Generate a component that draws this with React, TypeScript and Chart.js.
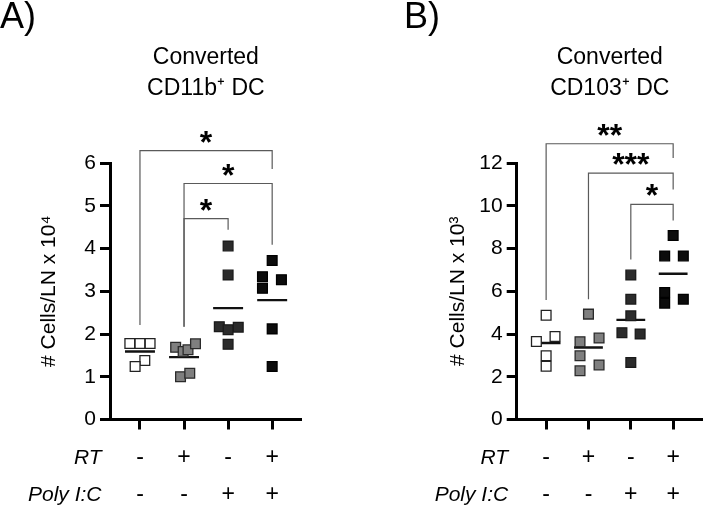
import React, { useEffect, useRef } from 'react';
import { Chart, registerables } from 'chart.js';

Chart.register(...registerables);

// ---------- data ----------
const rtRow = ['-', '+', '-', '+'];
const polyRow = ['-', '-', '+', '+'];
const rowLabels = ['RT', 'Poly I:C'];

// Panel A: Converted CD11b+ DC (# cells/LN x 10^4), one list per group
const cd11bValues = [
  [1.78, 1.78, 1.78, 1.38, 1.24],
  [1.69, 1.59, 1.63, 1.77, 1.0, 1.08],
  [4.06, 3.38, 2.17, 2.1, 2.16, 1.76],
  [3.72, 3.34, 3.07, 3.27, 2.12, 1.24],
];
// horizontal scatter offsets (in group units)
const cd11bJitter = [
  [-0.23, 0, 0.23, 0.11, -0.11],
  [-0.19, -0.02, 0.09, 0.26, -0.08, 0.13],
  [0, 0, -0.2, 0, 0.23, 0],
  [0, -0.22, -0.22, 0.21, 0, 0],
];
// significance brackets: [fromGroup, toGroup, top, leftLegEnd, rightLegEnd, label]
const cd11bSig: [number, number, number, number, number, string][] = [
  [0, 3, 6.29, 2.21, 5.86, '*'],
  [1, 3, 5.52, 2.17, 4.09, '*'],
  [1, 2, 4.7, 2.17, 4.44, '*'],
];

// Panel B: Converted CD103+ DC (# cells/LN x 10^3)
const cd103Values = [
  [4.88, 3.65, 3.88, 2.98, 2.49],
  [4.93, 3.81, 3.64, 2.98, 2.28, 2.55],
  [6.76, 5.63, 4.85, 4.06, 4.0, 2.67],
  [8.61, 7.65, 7.65, 5.94, 5.44, 5.63],
];
const cd103Jitter = [
  [0, -0.23, 0.21, 0, 0],
  [0, 0.25, -0.2, -0.2, -0.2, 0.25],
  [0, 0, 0, -0.21, 0.22, 0],
  [0, -0.2, 0.24, -0.2, -0.2, 0.24],
];
const cd103Sig: [number, number, number, number, number, string][] = [
  [0, 3, 12.9, 5.59, 12.23, '**'],
  [1, 3, 11.53, 5.63, 10.76, '***'],
  [2, 3, 10.06, 7.49, 9.31, '*'],
];

// ---------- styles ----------
const FONT = '"Liberation Sans", Arial, Helvetica, sans-serif';
const groupFill = ['#ffffff', '#7f7f7f', '#2b2b2b', '#0c0c0c'];
const groupBorder = ['#222222', '#2a2a2a', '#1a1a1a', '#000000'];

type PanelDef = {
  label: string;
  labelX: number;
  title: string[];
  yTitle: string;
  yMax: number;
  yStep: number;
  values: number[][];
  jitter: number[][];
  sig: [number, number, number, number, number, string][];
  width: number;
  left: number;
  rightPad: number;
  xMin: number;
  xMax: number;
  yTitleCenter: number;
};

const TOP = 163;
const BOTTOM = 419.5;
const H = 505;

function makeChart(canvas: HTMLCanvasElement, p: PanelDef) {
  const datasets: any[] = [];
  p.values.forEach((vals, g) => {
    datasets.push({
      data: vals.map((v, i) => ({ x: g + p.jitter[g][i], y: v })),
      pointStyle: 'rect',
      pointRadius: 6.9,
      pointHoverRadius: 6.9,
      backgroundColor: groupFill[g],
      borderColor: groupBorder[g],
      borderWidth: 1.3,
      order: 0,
    });
  });
  p.values.forEach((vals, g) => {
    const mean = vals.reduce((a, b) => a + b, 0) / vals.length;
    datasets.push({
      data: [
        { x: g - 0.34, y: mean },
        { x: g + 0.34, y: mean },
      ],
      showLine: true,
      borderColor: '#111111',
      borderWidth: 2.4,
      pointRadius: 0,
      order: 1,
    });
  });
  p.sig.forEach(([from, to, top, le, re]) => {
    datasets.push({
      data: [
        { x: from, y: le },
        { x: from, y: top },
        { x: to, y: top },
        { x: to, y: re },
      ],
      showLine: true,
      borderColor: '#5a5a5a',
      borderWidth: 1.2,
      pointRadius: 0,
      clip: false,
      order: 2,
    });
  });

  const annot = {
    id: 'annot',
    afterDraw(chart: any) {
      const { ctx, chartArea, scales } = chart;
      const xs = scales.x;
      const ys = scales.y;
      ctx.save();
      ctx.fillStyle = '#000';
      // panel label
      ctx.font = `36px ${FONT}`;
      ctx.textAlign = 'left';
      ctx.textBaseline = 'alphabetic';
      ctx.fillText(p.label, p.labelX, 28);
      // title
      ctx.font = `23px ${FONT}`;
      ctx.textAlign = 'center';
      const cx = (chartArea.left + chartArea.right) / 2;
      p.title.forEach((t, i) => ctx.fillText(t, cx, 64 + i * 31));
      // significance stars
      ctx.font = `bold 32px ${FONT}`;
      p.sig.forEach(([from, to, top, , , lab]) => {
        const sx = (xs.getPixelForValue(from) + xs.getPixelForValue(to)) / 2;
        ctx.fillText(lab, sx, ys.getPixelForValue(top) + 2);
      });
      // row labels of the design table
      ctx.font = `italic 21px ${FONT}`;
      ctx.textAlign = 'right';
      ctx.textBaseline = 'middle';
      rowLabels.forEach((r, i) => {
        ctx.fillText(r, chartArea.left - 8.5, chartArea.bottom + 10 + 10 + 18.5 + i * 37);
      });
      ctx.restore();
    },
  };

  return new Chart(canvas, {
    type: 'scatter',
    data: { datasets },
    plugins: [annot],
    options: {
      animation: false,
      responsive: false,
      events: [],
      layout: { padding: { top: TOP, right: p.rightPad, bottom: 0, left: 0 } },
      plugins: { legend: { display: false }, tooltip: { enabled: false }, title: { display: false } },
      scales: {
        x: {
          type: 'linear',
          min: p.xMin,
          max: p.xMax,
          afterBuildTicks: (s: any) => {
            s.ticks = rtRow.map((_, i) => ({ value: i }));
          },
          afterFit: (s: any) => {
            s.height = H - BOTTOM;
          },
          ticks: {
            autoSkip: false,
            maxRotation: 0,
            padding: 10,
            color: '#000',
            font: { family: FONT, size: 23, lineHeight: 37 / 23 },
            callback: (v: any) => [rtRow[v], polyRow[v]],
          },
          grid: { display: true, drawOnChartArea: false, drawTicks: true, tickLength: 10, tickWidth: 3, tickColor: '#000' },
          border: { display: true, width: 3, color: '#000' },
        },
        y: {
          min: 0,
          max: p.yMax,
          afterFit: (s: any) => {
            s.width = p.left;
          },
          ticks: {
            stepSize: p.yStep,
            padding: 4,
            color: '#000',
            font: { family: FONT, size: 21 },
          },
          grid: { display: true, drawOnChartArea: false, drawTicks: true, tickLength: 10, tickWidth: 3, tickColor: '#000' },
          border: { display: true, width: 3, color: '#000' },
          title: {
            display: true,
            text: p.yTitle,
            color: '#000',
            font: { family: FONT, size: 21, lineHeight: 1.2 },
            padding: { top: p.yTitleCenter - 12.6, bottom: 0 },
          },
        },
      },
    } as any,
  });
}

const panelA: PanelDef = {
  label: 'A)',
  labelX: 0,
  title: ['Converted', 'CD11b\u207A DC'],
  yTitle: '# Cells/LN x 10\u2074',
  yMax: 6,
  yStep: 1,
  values: cd11bValues,
  jitter: cd11bJitter,
  sig: cd11bSig,
  width: 360,
  left: 110,
  rightPad: 58.3,
  xMin: -0.68,
  xMax: 3.67,
  yTitleCenter: 49,
};

const panelB: PanelDef = {
  label: 'B)',
  labelX: 44,
  title: ['Converted', 'CD103\u207A DC'],
  yTitle: '# Cells/LN x 10\u00B3',
  yMax: 12,
  yStep: 2,
  values: cd103Values,
  jitter: cd103Jitter,
  sig: cd103Sig,
  width: 351,
  left: 156.7,
  rightPad: 1,
  xMin: -0.695,
  xMax: 3.7,
  yTitleCenter: 98,
};

function Panel({ def, x }: { def: PanelDef; x: number }) {
  const ref = useRef<HTMLCanvasElement>(null);
  useEffect(() => {
    if (!ref.current) return;
    const c = makeChart(ref.current, def);
    return () => c.destroy();
  }, [def]);
  return (
    <canvas
      ref={ref}
      width={def.width}
      height={H}
      style={{ position: 'absolute', left: x, top: 0, width: def.width, height: H }}
    />
  );
}

export default function App() {
  return (
    <div style={{ position: 'fixed', left: 0, top: 0, width: 711, height: 505, background: '#fff', overflow: 'hidden' }}>
      <Panel def={panelA} x={0} />
      <Panel def={panelB} x={360} />
    </div>
  );
}
